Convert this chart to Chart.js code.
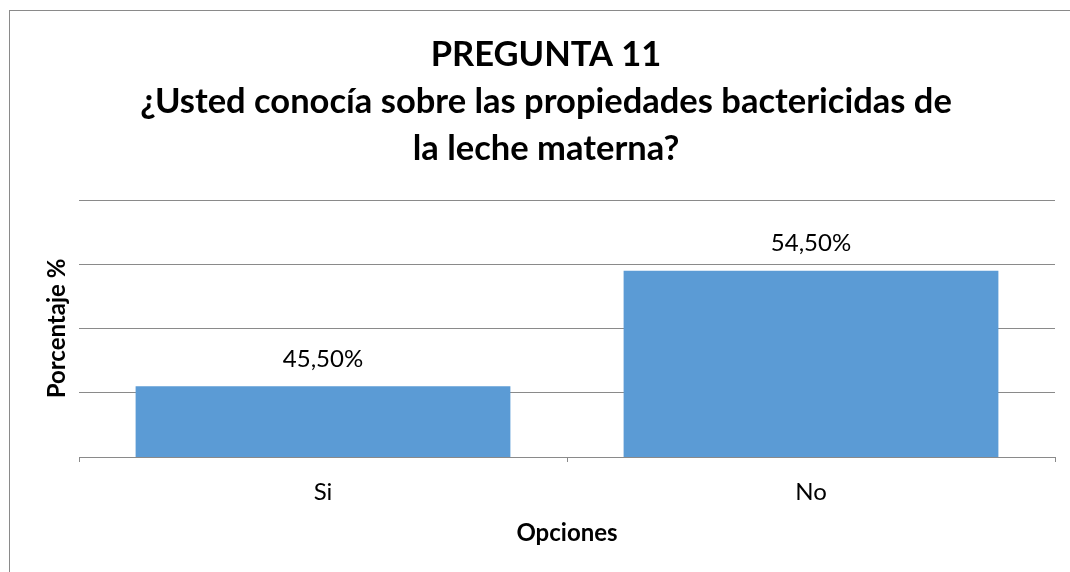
<!DOCTYPE html>
<html>
<head>
<meta charset="utf-8">
<script src="https://cdn.jsdelivr.net/npm/chart.js@4.4.1/dist/chart.umd.min.js"></script>
<style>
  html, body { margin: 0; padding: 0; background: #ffffff; }
  #wrap { width: 1070px; height: 572px; position: relative; }
</style>
</head>
<body>
<div id="wrap"><canvas id="c" width="1070" height="572"></canvas></div>
<script>
const categories = ["Si", "No"];
const values = [45.5, 54.5];
const valueLabels = ["45,50%", "54,50%"];
const titleLines = ["PREGUNTA 11", "¿Usted conocía sobre las propiedades bactericidas de", "la leche materna?"];
const xAxisTitle = "Opciones";
const yAxisTitle = "Porcentaje %";

const FONT = "Lato";
const GRAY = "#8a8a8a";

const framePlugin = {
  id: "frame",
  afterLayout(chart) {
    // the original title is centred on the whole (wider) chart frame
    if (chart.titleBlock) {
      chart.titleBlock.left = 37;
      chart.titleBlock.right = 1055;
    }
  },
  beforeDraw(chart) {
    const ctx = chart.ctx;
    ctx.save();
    ctx.fillStyle = "#ffffff";
    ctx.fillRect(0, 0, chart.width, chart.height);
    ctx.strokeStyle = GRAY;
    ctx.lineWidth = 1;
    ctx.strokeRect(9.5, 10.5, chart.width + 20, chart.height + 20);
    ctx.restore();
  }
};

const valueLabelPlugin = {
  id: "valueLabels",
  afterDatasetsDraw(chart) {
    const ctx = chart.ctx;
    const meta = chart.getDatasetMeta(0);
    ctx.save();
    ctx.font = "24px " + FONT;
    ctx.fillStyle = "#000000";
    ctx.textAlign = "center";
    ctx.textBaseline = "middle";
    meta.data.forEach((bar, i) => {
      ctx.fillText(valueLabels[i], bar.x, bar.y - 27);
    });
    ctx.restore();
  }
};

new Chart(document.getElementById("c"), {
  type: "bar",
  data: {
    labels: categories,
    datasets: [{
      data: values,
      backgroundColor: "#5B9BD5",
      borderWidth: 0,
      categoryPercentage: 1.0,
      barPercentage: 0.768
    }]
  },
  options: {
    responsive: false,
    devicePixelRatio: 1,
    animation: false,
    layout: { padding: { left: 0, right: 15, top: 0, bottom: 0 } },
    plugins: {
      legend: { display: false },
      tooltip: { enabled: false },
      title: {
        display: true,
        text: titleLines,
        color: "#000000",
        font: { family: FONT, size: 34.5, weight: "bold", lineHeight: 47 / 34.5 },
        padding: { top: 31, bottom: 28 }
      }
    },
    scales: {
      x: {
        grid: {
          display: true,
          drawOnChartArea: false,
          drawTicks: true,
          tickLength: 5,
          color: GRAY
        },
        border: { display: true, color: GRAY, width: 1 },
        ticks: {
          color: "#000000",
          font: { family: FONT, size: 24 },
          padding: 16
        },
        title: {
          display: true,
          text: xAxisTitle,
          color: "#000000",
          font: { family: FONT, size: 24, weight: "bold", lineHeight: 1.2 },
          padding: { top: 0, bottom: 24 }
        },
        afterFit(scale) { scale.height = 115; }
      },
      y: {
        min: 40,
        max: 60,
        ticks: { display: false, stepSize: 5 },
        grid: { color: GRAY, drawTicks: false },
        border: { display: false },
        title: {
          display: true,
          text: yAxisTitle,
          color: "#000000",
          font: { family: FONT, size: 24, weight: "bold", lineHeight: 1.2 },
          padding: { top: 43, bottom: 0 }
        },
        afterFit(scale) { scale.width = 79; }
      }
    }
  },
  plugins: [framePlugin, valueLabelPlugin]
});
</script>
</body>
</html>
